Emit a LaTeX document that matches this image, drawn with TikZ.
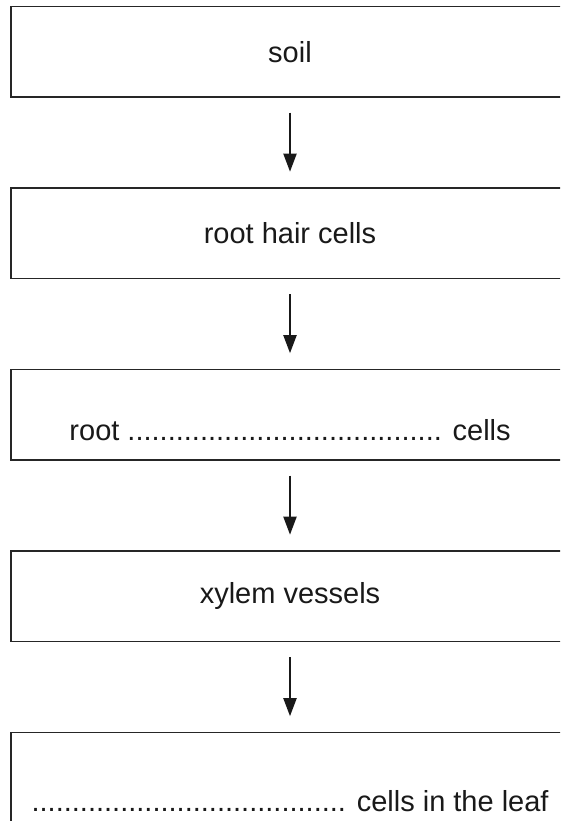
\documentclass[tikz,border=0pt]{standalone}
\usepackage{fontspec}
\setmainfont{Liberation Sans}
\usetikzlibrary{arrows.meta}

\tikzset{
  stagebox/.style={draw=black!85, line width=1.6pt, rectangle,
    minimum width=558.6pt, minimum height=90.3pt, inner sep=0pt, outer sep=0pt},
  stagetext/.style={font=\fontsize{29pt}{34pt}\selectfont, text=black!90, inner sep=0pt},
  flow/.style={draw=black!90, line width=2pt,
    -{Triangle[length=18pt, width=13pt]},
    shorten <=15.7pt, shorten >=16.5pt}
}

\begin{document}
\begin{tikzpicture}[x=1pt, y=1pt]
  \useasboundingbox (0,0) rectangle (560,821);
  \clip (0,0) rectangle (560,821);

  % stages of the water pathway, top to bottom
  \node[stagebox, stagetext] (b1) at (290,769.15) {soil};
  \node[stagebox, stagetext] (b2) at (290,587.65) {root hair cells};
  \node[stagebox] (b3) at (290,406.15) {};
  \node[stagebox, stagetext] (b4) at (290,224.65) {xylem vessels};
  \node[stagebox] (b5) at (290,43.15) {};

  % fill-in lines sit low in their boxes
  \node[stagetext, anchor=base] (t3) at (290,380) {root ....................................... cells};
  \node[stagetext, anchor=base] (t5) at (290,9.3) {....................................... cells in the leaf};

  % arrows between stages
  \draw[flow] (b1.south) -- (b2.north);
  \draw[flow] (b2.south) -- (b3.north);
  \draw[flow] (b3.south) -- (b4.north);
  \draw[flow] (b4.south) -- (b5.north);
\end{tikzpicture}
\end{document}
